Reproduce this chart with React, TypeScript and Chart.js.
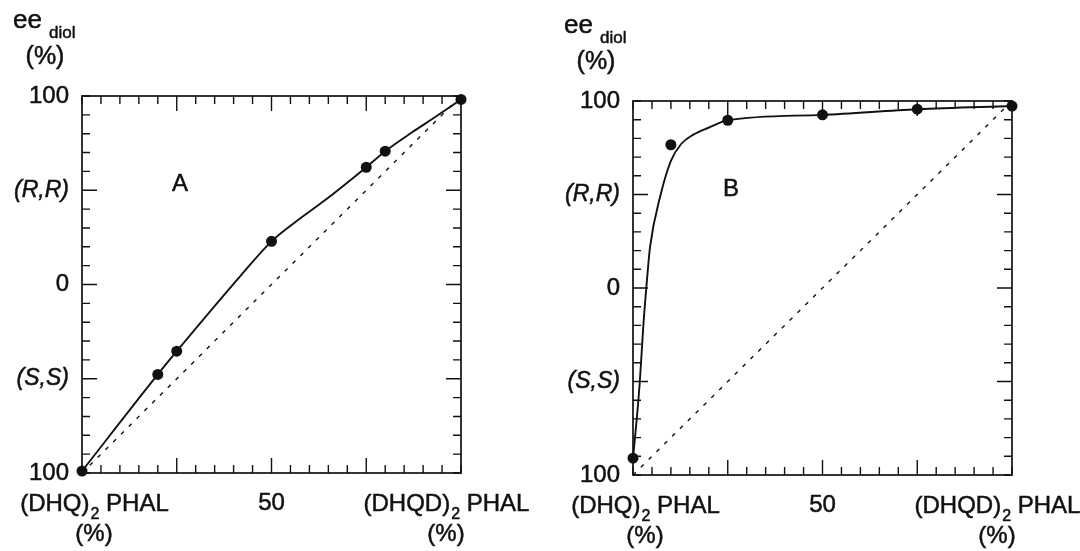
import React, { useEffect, useRef } from 'react';
import { Chart, registerables } from 'chart.js';

Chart.register(...registerables);

// ---------- data ----------
const yTickValues = [-100, -50, 0, 50, 100];
const yTickLabels = ['100', '(S,S)', '0', '(R,R)', '100'];
const xTickValues = [0, 50, 100];
const xTickLabels = ['', '50', ''];
const xMinorTicks = [0, 5, 10, 15, 20, 25, 30, 35, 40, 45, 50, 55, 60, 65, 70, 75, 80, 85, 90, 95, 100];
const yMinorTicks = [-100, -90, -80, -70, -60, -50, -40, -30, -20, -10, 0, 10, 20, 30, 40, 50, 60, 70, 80, 90, 100];

const diagonalX = [0, 100];
const diagonalY = [-100, 100];

const panelADotsX = [0, 20, 25, 50, 75, 80, 100];
const panelADotsY = [-99, -47.7, -35.4, 22.9, 62.2, 70.7, 98.2];
const panelACurveX = [0, 20, 25, 42, 50, 57, 64, 75, 80, 87, 93, 100];
const panelACurveY = [-99, -47.7, -35.4, 5, 22.9, 34.2, 44.5, 62.2, 70.7, 80.6, 88.6, 98.2];

const panelBDotsX = [0, 10, 25, 50, 75, 100];
const panelBDotsY = [-91, 76.6, 89.7, 92.6, 95.6, 97.3];
const panelBCurveX = [0, 0.9, 1.8, 2.7, 3.8, 4.5, 7.3, 10, 12.7, 15.9, 20, 25, 50, 75, 100];
const panelBCurveY = [-91, -72, -50, -21, 7, 22, 50, 68, 77, 82, 85.8, 89.7, 92.6, 95.6, 97.3];

const FONT = "'Liberation Sans', Arial, Helvetica, sans-serif";
const INK = '#111';
const TXT_STROKE = 0.5;

const zip = (xs: number[], ys: number[]) => xs.map((x, i) => ({ x, y: ys[i] }));

const decorPlugin = {
  id: 'decor',
  afterDatasetsDraw(chart: any, _args: any, opts: any) {
    const { ctx, chartArea } = chart;
    const { left, right, top, bottom } = chartArea;
    const xs = chart.scales.x;
    const ys = chart.scales.y;
    ctx.save();
    ctx.strokeStyle = INK;
    ctx.lineWidth = 1.7;
    ctx.strokeRect(left, top, right - left, bottom - top);
    ctx.lineWidth = 1.4;
    ctx.beginPath();
    xMinorTicks.forEach((v) => {
      const px = xs.getPixelForValue(v);
      const len = v % 25 === 0 && v !== 0 && v !== 100 ? 15 : 8;
      ctx.moveTo(px, top);
      ctx.lineTo(px, top + len);
      ctx.moveTo(px, bottom);
      ctx.lineTo(px, bottom - len);
    });
    yMinorTicks.forEach((v) => {
      const py = ys.getPixelForValue(v);
      const len = v % 50 === 0 && Math.abs(v) !== 100 ? 15 : 8;
      ctx.moveTo(left, py);
      ctx.lineTo(left + len, py);
      ctx.moveTo(right, py);
      ctx.lineTo(right - len, py);
    });
    ctx.stroke();

    ctx.fillStyle = INK;
    ctx.lineWidth = TXT_STROKE;
    const text = (s: string, x: number, y: number) => {
      ctx.fillText(s, x, y);
      ctx.strokeText(s, x, y);
    };
    ctx.textBaseline = 'alphabetic';
    // y title
    ctx.textAlign = 'left';
    ctx.font = `26px ${FONT}`;
    text('ee', left - 69, top - 68);
    ctx.font = `17px ${FONT}`;
    text('diol', left - 33, top - 58);
    ctx.textAlign = 'center';
    ctx.font = `25px ${FONT}`;
    text('(%)', left - 37, top - 32);
    // panel letter
    ctx.textBaseline = 'middle';
    ctx.font = `24px ${FONT}`;
    text(opts.letter, left + 98, top + 88);

    // x end labels
    const drawSub = (cx: number, base: number, main: string, sub: string, tail: string) => {
      ctx.textBaseline = 'alphabetic';
      ctx.textAlign = 'left';
      ctx.font = `24px ${FONT}`;
      const w1 = ctx.measureText(main).width;
      const w3 = ctx.measureText(tail).width;
      ctx.font = `16px ${FONT}`;
      const w2 = ctx.measureText(sub).width;
      const x0 = cx - (w1 + w2 + w3) / 2;
      ctx.font = `24px ${FONT}`;
      text(main, x0, base);
      ctx.font = `16px ${FONT}`;
      text(sub, x0 + w1 + 1, base + 8);
      ctx.font = `24px ${FONT}`;
      text(tail, x0 + w1 + w2 + 1, base);
    };
    const base = bottom + 38;
    const lx = xs.getPixelForValue(0) + 12;
    const rx = xs.getPixelForValue(100) - 15;
    drawSub(lx, base, '(DHQ)', '2', ' PHAL');
    drawSub(rx, base, '(DHQD)', '2', ' PHAL');
    ctx.textAlign = 'center';
    ctx.font = `24px ${FONT}`;
    text('(%)', lx, bottom + 68);
    text('(%)', rx, bottom + 68);
    ctx.restore();
  },
};

type PanelProps = {
  letter: string;
  dotsX: number[];
  dotsY: number[];
  curveX: number[];
  curveY: number[];
  padTop: number;
  padRight: number;
  yWidth: number;
  xHeight: number;
};

function Panel(p: PanelProps) {
  const ref = useRef<HTMLCanvasElement | null>(null);
  useEffect(() => {
    if (!ref.current) return;
    const chart = new Chart(ref.current, {
      type: 'line',
      data: {
        datasets: [
          {
            label: 'diagonal',
            data: zip(diagonalX, diagonalY),
            borderColor: INK,
            borderWidth: 1.4,
            borderDash: [4, 7],
            pointRadius: 0,
            fill: false,
          },
          {
            label: 'curve',
            data: zip(p.curveX, p.curveY),
            borderColor: INK,
            borderWidth: 1.9,
            pointRadius: 0,
            cubicInterpolationMode: 'monotone',
            fill: false,
            clip: false as any,
          },
          {
            label: 'measured',
            data: zip(p.dotsX, p.dotsY),
            showLine: false,
            pointRadius: 5.5,
            pointBackgroundColor: INK,
            pointBorderColor: INK,
            pointBorderWidth: 0,
            clip: false as any,
          },
        ] as any,
      },
      options: {
        responsive: false,
        animation: false,
        events: [],
        layout: { padding: { top: p.padTop, right: p.padRight, left: 0, bottom: 0 } },
        plugins: {
          legend: { display: false },
          tooltip: { enabled: false },
          decor: { letter: p.letter },
        } as any,
        scales: {
          x: {
            type: 'linear',
            min: 0,
            max: 100,
            afterFit: (s: any) => { s.height = p.xHeight; },
            afterBuildTicks: (s: any) => { s.ticks = xTickValues.map((v) => ({ value: v })); },
            grid: { display: false, drawTicks: false },
            border: { display: false },
            ticks: {
              autoSkip: false,
              maxRotation: 0,
              padding: 16,
              color: INK,
              textStrokeColor: INK,
              textStrokeWidth: TXT_STROKE,
              font: { family: FONT, size: 24 },
              callback: (v: any) => xTickLabels[xTickValues.indexOf(Number(v))] ?? '',
            },
          },
          y: {
            type: 'linear',
            min: -100,
            max: 100,
            afterFit: (s: any) => { s.width = p.yWidth; },
            afterBuildTicks: (s: any) => { s.ticks = yTickValues.map((v) => ({ value: v })); },
            grid: { display: false, drawTicks: false },
            border: { display: false },
            ticks: {
              autoSkip: false,
              padding: 13,
              color: INK,
              textStrokeColor: INK,
              textStrokeWidth: TXT_STROKE,
              font: (c: any) => ({
                family: FONT,
                size: Math.abs(c.tick?.value) === 50 ? 23 : 24,
                style: Math.abs(c.tick?.value) === 50 ? 'italic' : 'normal',
              }),
              callback: (v: any) => yTickLabels[yTickValues.indexOf(Number(v))] ?? '',
            },
          },
        },
      } as any,
      plugins: [decorPlugin as any],
    });
    return () => chart.destroy();
  }, []);
  return <canvas ref={ref} width={540} height={551} style={{ width: 540, height: 551, display: 'block' }} />;
}

export default function App() {
  return (
    <div style={{ position: 'fixed', left: 0, top: 0, width: 1080, height: 551, background: '#fff', display: 'flex' }}>
      <Panel letter="A" dotsX={panelADotsX} dotsY={panelADotsY} curveX={panelACurveX} curveY={panelACurveY}
        padTop={96} padRight={79} yWidth={82} xHeight={78} />
      <Panel letter="B" dotsX={panelBDotsX} dotsY={panelBDotsY} curveX={panelBCurveX} curveY={panelBCurveY}
        padTop={101} padRight={68} yWidth={93} xHeight={76} />
    </div>
  );
}
